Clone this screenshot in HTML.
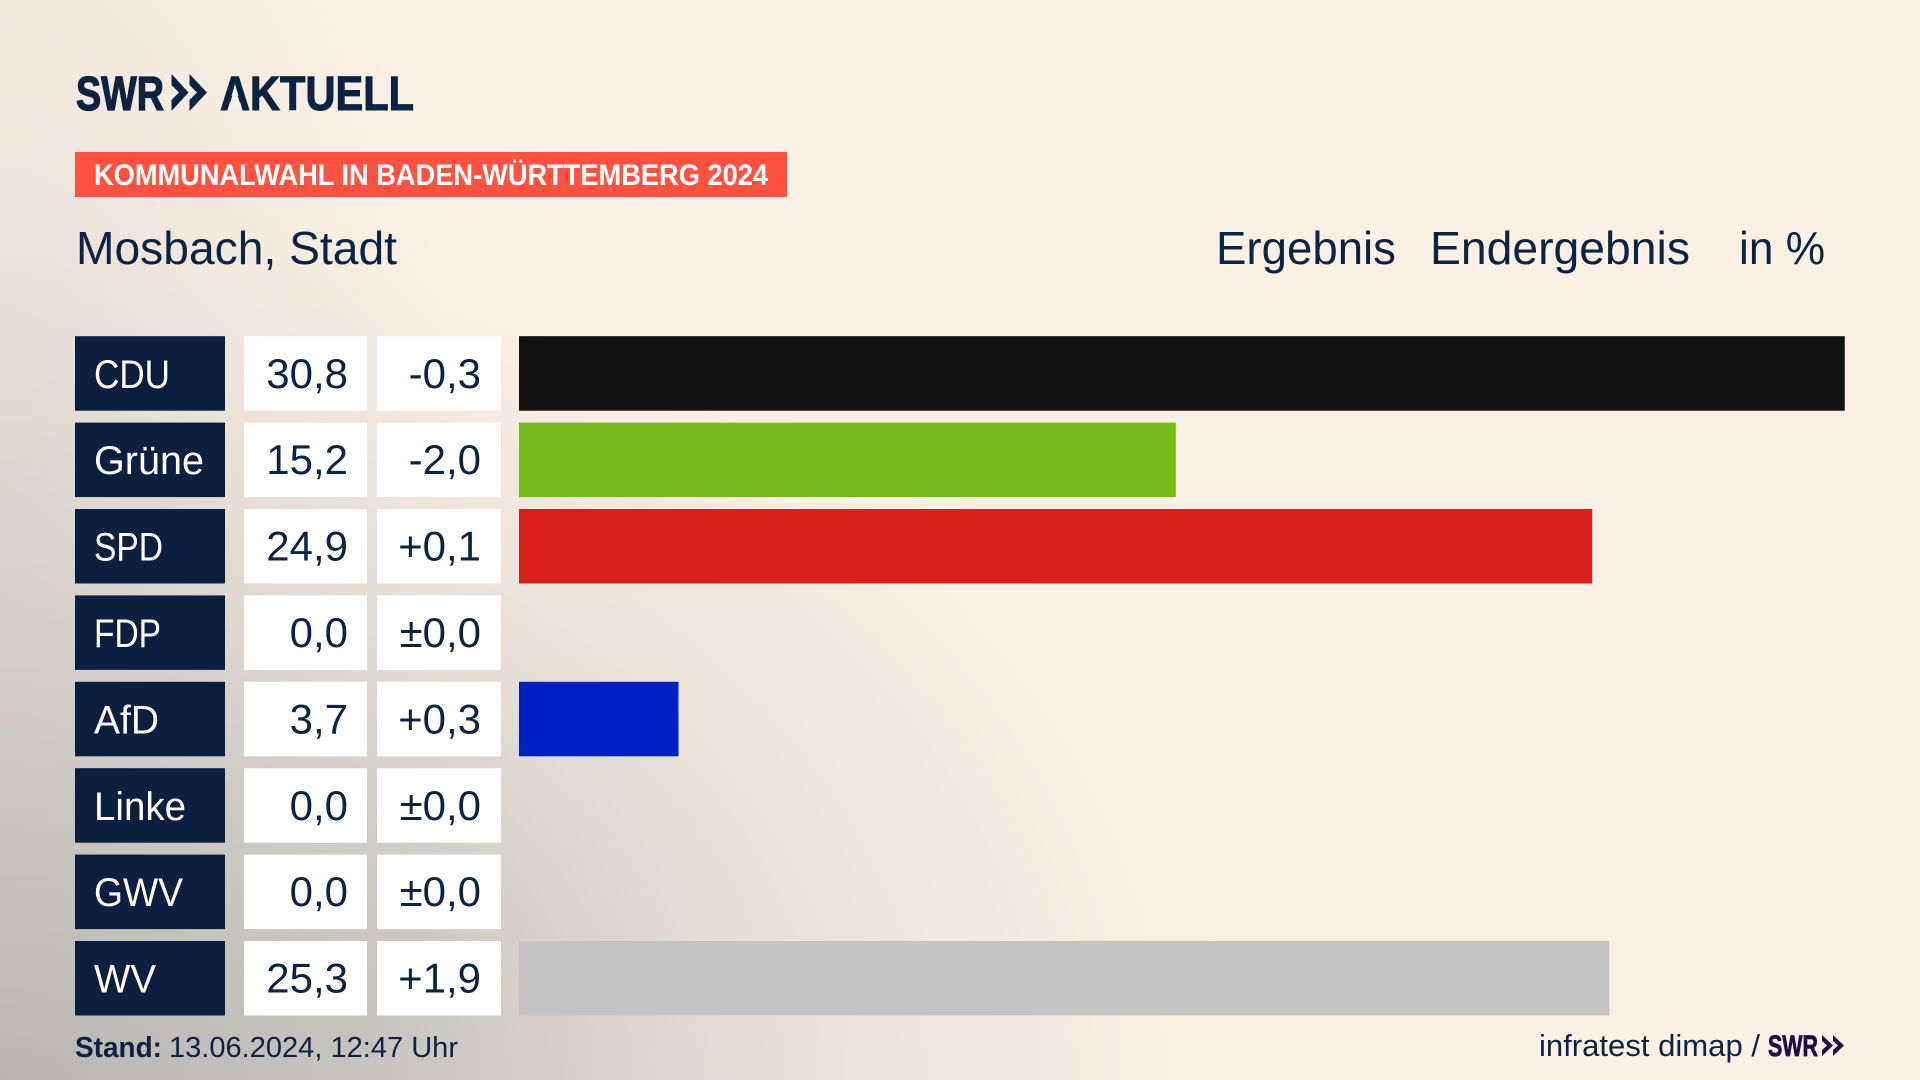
<!DOCTYPE html>
<html lang="de">
<head>
<meta charset="utf-8">
<title>Kommunalwahl Mosbach</title>
<style>
html,body{margin:0;padding:0;width:1920px;height:1080px;overflow:hidden;background:#faf1e6}
#bg{position:absolute;left:0;top:0;width:1920px;height:1080px;
background:
radial-gradient(ellipse 460px 900px at 0px 500px,rgba(200,195,190,.42) 0%,rgba(215,208,200,.2) 55%,rgba(240,232,222,0) 100%),
radial-gradient(ellipse 1260px 900px at 0px 1080px,#b2b1af 0%,#bfbdba 20%,#d0ccc7 40%,#e3ddd6 58%,#f0e8df 76%,#f7eee4 90%,#faf1e6 100%)}
svg{position:absolute;left:0;top:0}
text{font-family:"Liberation Sans",sans-serif;fill:#0d2340}
</style>
</head>
<body>
<div id="bg"></div>
<svg id="chart" width="1920" height="1080" viewBox="0 0 1920 1080" xmlns="http://www.w3.org/2000/svg">
  <g>
    <text x="76" y="110" font-size="48" font-weight="700" textLength="88" lengthAdjust="spacingAndGlyphs" stroke="#0d2340" stroke-width="1.3">SWR</text>
    <polygon points="171.5,74 188.5,92.5 171.5,111 171.5,100 179,92.5 171.5,85" fill="#0d2340"/>
    <polygon points="189.5,74 207,92.5 189.5,111 189.5,100 197,92.5 189.5,85" fill="#0d2340"/>
    <text x="220" y="110" font-size="48" font-weight="700" textLength="194" lengthAdjust="spacingAndGlyphs" stroke="#0d2340" stroke-width="1.1">AKTUELL</text>
    <polygon points="235,87 227.5,111.5 242.5,111.5" fill="#faf1e6"/>
  </g>
  <rect x="75" y="152" width="712" height="45" fill="#ff5240"/>
  <text x="94" y="185" font-size="30" font-weight="700" textLength="674" lengthAdjust="spacingAndGlyphs" style="fill:#fff">KOMMUNALWAHL IN BADEN-WÜRTTEMBERG 2024</text>
  <text x="76" y="264" font-size="46" textLength="321" lengthAdjust="spacingAndGlyphs">Mosbach, Stadt</text>
  <text x="1216" y="264" font-size="46" textLength="180" lengthAdjust="spacingAndGlyphs">Ergebnis</text>
  <text x="1430" y="264" font-size="46" textLength="260" lengthAdjust="spacingAndGlyphs">Endergebnis</text>
  <text x="1739" y="264" font-size="46" textLength="86" lengthAdjust="spacingAndGlyphs">in %</text>
  <g id="rows"></g>
  <text x="75" y="1057" font-size="29" font-weight="700" textLength="87" lengthAdjust="spacingAndGlyphs">Stand:</text>
  <text x="169" y="1057" font-size="29" textLength="289" lengthAdjust="spacingAndGlyphs">13.06.2024, 12:47 Uhr</text>
  <text x="1539" y="1056" font-size="31" textLength="221" lengthAdjust="spacingAndGlyphs">infratest dimap /</text>
  <text x="1768" y="1056" font-size="30" font-weight="700" textLength="50" lengthAdjust="spacingAndGlyphs" stroke="#1f0f47" stroke-width="0.8" style="fill:#1f0f47">SWR</text>
  <polygon points="1822,1035 1833,1045.5 1822,1056 1822,1050 1827,1045.5 1822,1041" fill="#1f0f47"/>
  <polygon points="1833,1035 1844,1045.5 1833,1056 1833,1050 1838,1045.5 1833,1041" fill="#1f0f47"/>
</svg>
<script>
const parties = ["CDU", "Grüne", "SPD", "FDP", "AfD", "Linke", "GWV", "WV"];
const results = [30.76, 15.24, 24.9, 0.0, 3.7, 0.0, 0.0, 25.3];
const changes = ["-0,3", "-2,0", "+0,1", "±0,0", "+0,3", "±0,0", "±0,0", "+1,9"];
const barColors = ["#121212", "#78bc1b", "#d9201c", "#e2c400", "#0020c4", "#b5127c", "#888888", "#c4c4c4"];

const NS = "http://www.w3.org/2000/svg";
const barLeft = 519;
const pxPerPercent = 43.1;
const firstRowTop = 336.2;
const rowPitch = 86.4;
const rowHeight = 74.5;
const labelWidths = {CDU: 76, "Grüne": 110, SPD: 69, FDP: 67, AfD: 65, Linke: 92, GWV: 89, WV: 62};

function xScale(v) { return v * pxPerPercent; }
function yScale(i) { return firstRowTop + i * rowPitch; }
function fmt(v) { return v.toFixed(1).replace(".", ","); }
function slug(s) { return s.toLowerCase().replace("ü", "ue"); }

const host = document.getElementById("rows");

function makeRect(x, y, w, h, fill) {
  const r = document.createElementNS(NS, "rect");
  r.setAttribute("x", x);
  r.setAttribute("y", y);
  r.setAttribute("width", w);
  r.setAttribute("height", h);
  r.setAttribute("fill", fill);
  host.appendChild(r);
  return r;
}
function makeText(x, y, str, anchor, color, size) {
  const t = document.createElementNS(NS, "text");
  t.setAttribute("x", x);
  t.setAttribute("y", y);
  t.setAttribute("font-size", size);
  t.setAttribute("text-anchor", anchor);
  t.style.fill = color;
  t.textContent = str;
  host.appendChild(t);
  return t;
}

parties.forEach(function (party, i) {
  const y = yScale(i);
  const base = y + 51.6;
  const id = slug(party);

  const labelBox = makeRect(75, y, 150, rowHeight, "#0b1f3f");
  
  

  const label = makeText(94, base, party, "start", "#ffffff", 40);
  label.setAttribute("textLength", labelWidths[party]);
  label.setAttribute("lengthAdjust", "spacingAndGlyphs");
  
  

  const valueBox = makeRect(244, y, 123, rowHeight, "#ffffff");
  
  

  const value = makeText(348, base, fmt(results[i]), "end", "#0d2340", 42);
  
  

  const changeBox = makeRect(377, y, 124, rowHeight, "#ffffff");
  
  

  const change = makeText(481, base, changes[i], "end", "#0d2340", 42);
  
  

  const bar = makeRect(barLeft, y, xScale(results[i]), rowHeight, barColors[i]);
  
  
});
</script>
</body>
</html>
